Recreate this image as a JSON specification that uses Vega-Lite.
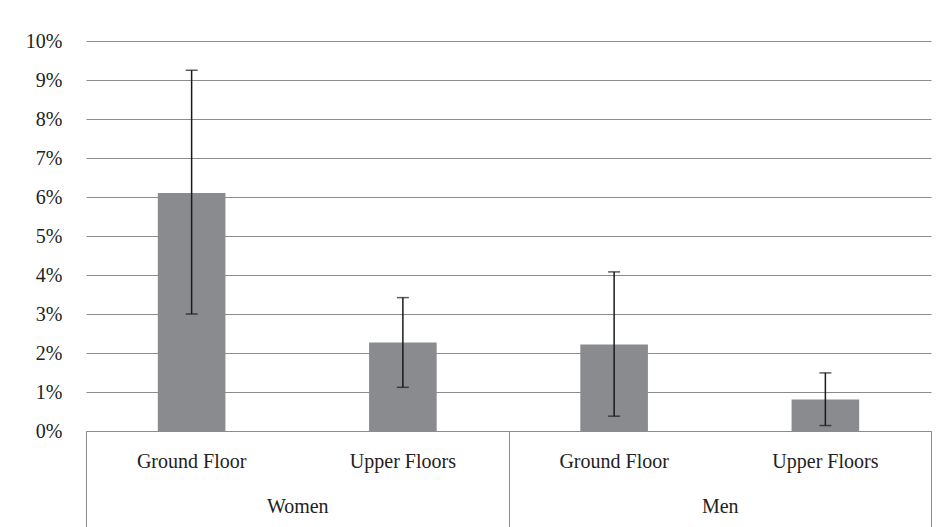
{
  "$schema": "https://vega.github.io/schema/vega-lite/v6.json",
  "width": 845,
  "height": 390,
  "autosize": {"type": "none"},
  "padding": {"left": 86, "top": 41, "right": 17, "bottom": 96},
  "background": "white",
  "config": {
    "view": {"stroke": null},
    "font": "Liberation Serif",
    "axis": {"labelFont": "Liberation Serif", "labelFontSize": 20, "labelColor": "#222222", "labelOverlap": false},
    "axisY": {"values": [0, 0.01, 0.02, 0.03, 0.04, 0.05, 0.06, 0.07, 0.08, 0.09, 0.1], "format": ".0%", "domain": false, "ticks": false, "grid": true, "gridColor": "#8c8c8c", "gridWidth": 1, "gridOpacity": 1, "labelPadding": 24, "title": null}
  },
  "data": {
    "values": [
      {"gender": "Women", "floor": "Ground Floor", "key": "Women|Ground Floor", "value": 0.061, "low": 0.030, "high": 0.0925},
      {"gender": "Women", "floor": "Upper Floors", "key": "Women|Upper Floors", "value": 0.0227, "low": 0.0112, "high": 0.0342},
      {"gender": "Men", "floor": "Ground Floor", "key": "Men|Ground Floor", "value": 0.0222, "low": 0.0038, "high": 0.0408},
      {"gender": "Men", "floor": "Upper Floors", "key": "Men|Upper Floors", "value": 0.0081, "low": 0.0014, "high": 0.0149}
    ]
  },
  "resolve": {"scale": {"x": "independent"}, "axis": {"x": "independent"}},
  "layer": [
    {
      "mark": {"type": "rule", "strokeOpacity": 0},
      "encoding": {
        "x": {
          "field": "gender", "type": "nominal", "sort": ["Women", "Men"],
          "scale": {"paddingInner": 0, "paddingOuter": 0},
          "axis": {"title": null, "orient": "bottom", "domain": false, "grid": false, "ticks": true, "tickBand": "extent", "tickSize": 110, "tickColor": "#8c8c8c", "tickWidth": 1, "labelPadding": -45, "labelAngle": 0}
        }
      }
    },
    {
      "layer": [
        {
          "mark": {"type": "bar", "color": "#8a8b8f"},
          "encoding": {
            "x": {
              "field": "key", "type": "nominal", "sort": null,
              "scale": {"paddingInner": 0.68, "paddingOuter": 0.34},
              "axis": {"title": null, "orient": "bottom", "domain": true, "domainColor": "#8c8c8c", "domainWidth": 1, "ticks": false, "grid": false, "labelAngle": 0, "labelPadding": 20, "labelExpr": "split(datum.label, '|')[1]"}
            },
            "y": {
              "field": "value", "type": "quantitative",
              "scale": {"domain": [0, 0.1], "nice": false}
            }
          }
        },
        {
          "mark": {"type": "rule", "color": "#1a1a1a", "strokeWidth": 1.5},
          "encoding": {
            "x": {"field": "key", "type": "nominal", "sort": null},
            "y": {"field": "low", "type": "quantitative"},
            "y2": {"field": "high"}
          }
        },
        {
          "mark": {"type": "tick", "color": "#1a1a1a", "size": 12, "thickness": 1.5},
          "encoding": {
            "x": {"field": "key", "type": "nominal", "sort": null},
            "y": {"field": "high", "type": "quantitative"}
          }
        },
        {
          "mark": {"type": "tick", "color": "#1a1a1a", "size": 12, "thickness": 1.5},
          "encoding": {
            "x": {"field": "key", "type": "nominal", "sort": null},
            "y": {"field": "low", "type": "quantitative"}
          }
        }
      ]
    }
  ]
}
